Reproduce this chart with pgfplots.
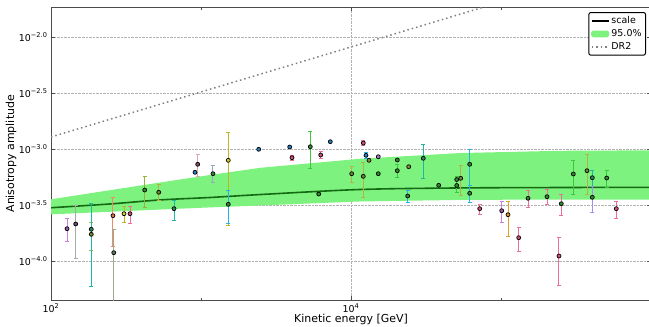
\documentclass[border=0pt]{standalone}
\usepackage{pgfplots}
\pgfplotsset{compat=1.18}
\usepackage{fontspec}
\setmainfont{DejaVu Sans}

\definecolor{bandgreen}{HTML}{7EF27E}
\definecolor{scaleline}{HTML}{136A13}
\definecolor{dotblue}{HTML}{1F7FC0}
\definecolor{fillgreen}{HTML}{2E8B2E}
\definecolor{pinkbar}{HTML}{EE6E9A}
\definecolor{pinkfill}{HTML}{D0507A}
\definecolor{violetbar}{HTML}{CC80DD}
\definecolor{violetfill}{HTML}{9A5AA8}
\definecolor{greybar}{HTML}{A9A9A9}
\definecolor{greyfill}{HTML}{6A4A7A}
\definecolor{tealbar}{HTML}{1CB8A0}
\definecolor{tealfill}{HTML}{2A8A5A}
\definecolor{olivebar}{HTML}{B5B048}
\definecolor{olivefill}{HTML}{6A8A2A}
\definecolor{yellowbar}{HTML}{BDB62A}
\definecolor{yellowfill}{HTML}{D8D020}
\definecolor{redbar}{HTML}{F28A68}
\definecolor{redfill}{HTML}{E86A40}
\definecolor{orangebar}{HTML}{E0A030}
\definecolor{orangefill}{HTML}{D89020}
\definecolor{ggbar}{HTML}{9AAA90}
\definecolor{ggfill}{HTML}{5A7A5A}
\definecolor{ogbar}{HTML}{94B23C}
\definecolor{rosebar}{HTML}{DCA8B0}
\definecolor{rosefill}{HTML}{8A4A5A}
\definecolor{slatebar}{HTML}{98A8BC}
\definecolor{greenbar}{HTML}{3CC83C}
\definecolor{cyanbar}{HTML}{2AB0E8}
\definecolor{lavbar}{HTML}{A48CF4}
\definecolor{dotolive}{HTML}{8A8A3A}
\definecolor{dotpurple}{HTML}{B070D0}
\definecolor{dr2grey}{HTML}{808080}

\pgfplotsset{
  errpts/.style 2 args={only marks, mark=*, mark size=2pt,
    mark options={fill=#2, draw=black, line width=0.7pt, solid},
    /pgfplots/error bars/y dir=both,
    /pgfplots/error bars/y explicit,
    /pgfplots/error bars/error bar style={#1, line width=1pt},
    /pgfplots/error bars/error mark options={#1, rotate=90, mark size=2pt, line width=0.8pt}},
  dotpts/.style={only marks, mark=*, mark size=2pt,
    mark options={fill=#1, draw=black, line width=0.7pt}},
  dr2style/.style={dr2grey, line width=1.5pt, dash pattern=on 1.5pt off 3pt},
}
% columns: energy, amplitude, lower and upper end of the error bar
\pgfkeys{/pgfplots/table/errtab/.style={x=x, y=y,
    y error plus expr=\thisrow{hi}-\thisrow{y},
    y error minus expr=\thisrow{y}-\thisrow{lo}}}

\begin{document}
\begin{tikzpicture}
\begin{axis}[
  scale only axis, width=600bp, height=292.5bp,
  at={(0,0)}, anchor=south west,
  xmode=log, ymode=log,
  xmin=100, xmax=1e6, ymin=4.484e-5, ymax=1.834e-2,
  xtick={100,10000},
  xticklabels={10\textsuperscript{2},10\textsuperscript{4}},
  minor xtick={1000,100000},
  ytick={1e-4,3.16228e-4,1e-3,3.16228e-3,1e-2},
  yticklabels={10\textsuperscript{−4.0},10\textsuperscript{−3.5},10\textsuperscript{−3.0},10\textsuperscript{−2.5},10\textsuperscript{−2.0}},
  grid=major,
  major grid style={densely dotted, gray!60, line width=0.7pt},
  axis line style={line width=1pt, black!70},
  tick align=inside,
  major tick length=4bp, minor tick length=2bp,
  tick style={black!70, line width=0.6pt},
  tick label style={font=\fontsize{9.5}{11}\selectfont},
  xlabel={Kinetic energy [GeV]},
  ylabel={Anisotropy amplitude},
  label style={font=\fontsize{11}{13}\selectfont},
  xlabel style={at={(axis description cs:0.5,0)}, anchor=base, yshift=-22bp, inner sep=0pt},
  ylabel style={at={(axis description cs:-0.0616,0.5)}, anchor=base, inner sep=0pt},
  legend style={at={(1,1)}, anchor=north east, xshift=-5bp, yshift=-4.5bp,
    draw=black, line width=1pt, rounded corners=2pt,
    font=\fontsize{9.5}{11}\selectfont, row sep=0.5bp, inner sep=2pt},
  legend cell align=left,
]

% 95% confidence band of the scale model
\addplot[fill=bandgreen, draw=none, forget plot] coordinates {
  (100,3.556e-4) (247,4.285e-4) (533,5.02e-4) (1148,5.86e-4) (2473,6.79e-4)
  (11482,8.18e-4) (53300,9.20e-4) (247000,9.64e-4) (1e6,9.73e-4)
  (1e6,3.54e-4) (247000,3.54e-4) (53300,3.51e-4) (11482,3.40e-4)
  (2473,3.13e-4) (1148,3.01e-4) (533,2.88e-4) (247,2.75e-4) (100,2.61e-4)
};

% best-fit scale
\addplot[scaleline, line width=1.6pt, smooth, forget plot] coordinates {
  (100,2.99e-4) (247,3.23e-4) (533,3.51e-4) (1148,3.69e-4) (2473,3.92e-4)
  (11482,4.35e-4) (53300,4.49e-4) (247000,4.53e-4) (1e6,4.55e-4)
};

% DR2 power law
\addplot[dr2style, forget plot] coordinates {
  (100,1.28e-3) (1e6,5.19e-2)
};

% measurements
\addplot[errpts={pinkbar}{pinkfill}, forget plot] table[errtab] {
x y lo hi
336.3 2.644e-4 2.170e-4 3.097e-4
4044 8.36e-4 7.927e-4 8.785e-4
6281 8.84e-4 8.26e-4 9.46e-4
12078 1.131e-3 1.070e-3 1.203e-3
72110 2.931e-4 2.612e-4 3.228e-4
131220 1.614e-4 1.211e-4 2.000e-4
243560 1.108e-4 6.10e-5 1.627e-4
587100 2.931e-4 2.421e-4 3.433e-4
};
\addplot[errpts={pinkbar}{fillgreen}, forget plot] table[errtab] {
x y lo hi
151360 3.630e-4 3.016e-4 4.303e-4
202670 3.751e-4 3.208e-4 4.366e-4
252350 3.248e-4 2.574e-4 3.908e-4
};
\addplot[errpts={violetbar}{violetfill}, forget plot] table[errtab] {
x y lo hi
127.9 1.943e-4 1.499e-4 2.405e-4
101090 2.812e-4 2.198e-4 3.433e-4
};
\addplot[errpts={greybar}{greyfill}, forget plot] table[errtab] {
x y lo hi
146.1 2.140e-4 1.057e-4 3.162e-4
};
\addplot[errpts={olivebar}{olivefill}, forget plot] table[errtab] {
x y lo hi
185.6 1.731e-4 1.253e-4 2.215e-4
522.4 4.105e-4 3.504e-4 4.838e-4
10108 6.018e-4 5.073e-4 7.006e-4
12078 5.703e-4 3.674e-4 7.54e-4
53860 5.474e-4 3.884e-4 7.094e-4
374400 6.40e-4 3.940e-4 8.968e-4
};
\addplot[errpts={tealbar}{tealfill}, forget plot] table[errtab] {
x y lo hi
185.6 1.919e-4 5.896e-5 3.275e-4
660.7 2.931e-4 2.323e-4 3.504e-4
30339 8.26e-4 5.474e-4 1.101e-3
406200 5.541e-4 4.606e-4 6.453e-4
};
\addplot[errpts={yellowbar}{yellowfill}, forget plot] table[errtab] {
x y lo hi
306.7 2.644e-4 2.215e-4 3.053e-4
1520 7.927e-4 2.096e-4 1.398e-3
};
\addplot[errpts={redbar}{redfill}, forget plot] table[errtab] {
x y lo hi
259 2.538e-4 1.341e-4 3.674e-4
};
\addplot[errpts={orangebar}{orangefill}, forget plot] table[errtab] {
x y lo hi
111350 2.590e-4 1.672e-4 3.433e-4
};
\addplot[errpts={ggbar}{ggfill}, forget plot] table[errtab] {
x y lo hi
262 1.186e-4 3.0e-5 1.919e-4
};
\addplot[errpts={ogbar}{fillgreen}, forget plot] table[errtab] {
x y lo hi
421.4 4.303e-4 3.016e-4 5.657e-4
};
\addplot[errpts={rosebar}{rosefill}, forget plot] table[errtab] {
x y lo hi
950.6 7.302e-4 5.739e-4 8.968e-4
};
\addplot[errpts={slatebar}{fillgreen}, forget plot] table[errtab] {
x y lo hi
1202 6.018e-4 5.042e-4 7.094e-4
};
\addplot[errpts={greenbar}{fillgreen}, forget plot] table[errtab] {
x y lo hi
5355 1.048e-3 6.668e-4 1.427e-3
20356 6.40e-4 5.587e-4 7.302e-4
50670 5.341e-4 4.071e-4 5.739e-4
303390 5.981e-4 3.940e-4 7.927e-4
506700 5.508e-4 4.55e-4 6.453e-4
};
\addplot[errpts={cyanbar}{fillgreen}, forget plot] table[errtab] {
x y lo hi
1520 3.208e-4 2.170e-4 4.242e-4
23878 3.805e-4 3.363e-4 4.303e-4
61830 7.302e-4 4.771e-4 9.938e-4
61830 4.022e-4 3.342e-4 4.771e-4
};
\addplot[errpts={cyanbar}{dotblue}, forget plot] table[errtab] {
x y lo hi
12589 8.785e-4 8.23e-4 9.40e-4
};
\addplot[errpts={lavbar}{fillgreen}, forget plot] table[errtab] {
x y lo hi
406200 3.705e-4 2.739e-4 4.673e-4
};
\addplot[dotpts=dotblue, forget plot] coordinates {
  (912,6.194e-4) (2425,9.938e-4) (3902,1.042e-3) (7278,1.162e-3)
};
\addplot[dotpts=fillgreen, forget plot] coordinates {
  (6091,3.964e-4) (15205,6.018e-4) (20356,7.976e-4) (38430,4.742e-4) (50670,4.722e-4)
};
\addplot[dotpts=dotolive, forget plot] coordinates {
  (13183,7.927e-4) (24250,6.95e-4)
};
\addplot[dotpts=dotpurple, forget plot] coordinates {
  (15205,8.53e-4)
};

\addlegendimage{black, line width=1.6pt}
\addlegendentry{scale}
\addlegendimage{legend image code/.code={\fill[bandgreen] (0cm,-0.1cm) rectangle (0.6cm,0.1cm);}}
\addlegendentry{95.0\%}
\addlegendimage{dr2style}
\addlegendentry{DR2}
\end{axis}
\pgfresetboundingbox
\useasboundingbox (-51bp,-27bp) rectangle (598bp,300bp);
\end{tikzpicture}
\end{document}
